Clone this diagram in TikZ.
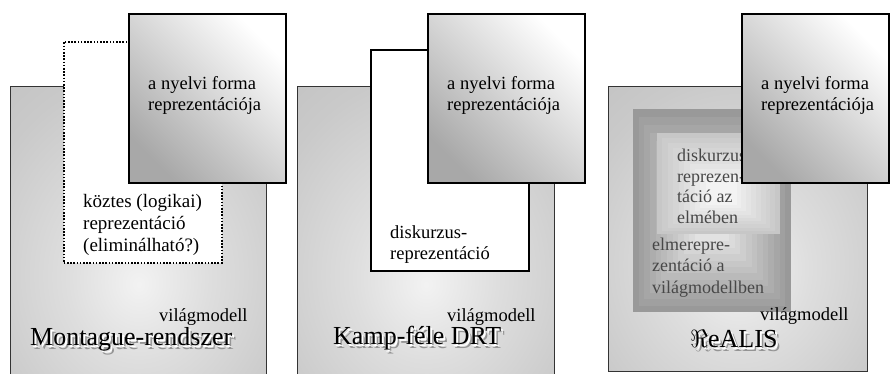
\documentclass[tikz,border=0pt]{standalone}
\usepackage{fontspec}
\setmainfont{Liberation Serif}
\usepackage{tikz}
\usetikzlibrary{positioning, shadings}

\definecolor{worldin}{gray}{0.95}
\definecolor{worldmid}{gray}{0.87}
\definecolor{worldlow}{gray}{0.79}
\definecolor{worldout}{gray}{0.74}
\pgfdeclareradialshading{worldglow}{\pgfpoint{0bp}{-8bp}}{%
  color(0bp)=(worldin); color(14bp)=(worldmid); color(32bp)=(worldlow);
  color(50bp)=(worldout); color(95bp)=(worldout)}

\newcommand{\worldtitle}[3]{%
  \node[titletext, text=black!42, xshift=3.5pt, yshift=-4.5pt] (#1-shadow) at (#2) {#3};
  \node[titletext, text=white, xshift=2pt, yshift=-2.5pt] (#1-glow) at (#2) {#3};
  \node[titletext] (#1) at (#2) {#3};}

\begin{document}
\begin{tikzpicture}[x=1pt, y=-1pt,
  world/.style={rectangle, anchor=north west, inner sep=0pt, draw=black!80,
    line width=1.4pt, shade, shading=worldglow},
  between/.style={rectangle, anchor=north west, inner sep=0pt, fill=white,
    minimum width=158pt, minimum height=221pt},
  formbox/.style={rectangle, anchor=north west, inner sep=0pt, draw=black,
    line width=2pt, minimum height=169pt, top color=white,
    bottom color=black!34, shading angle=-45},
  formtext/.style={anchor=base west, inner sep=0pt, align=left,
    font=\fontsize{18.5}{21}\selectfont},
  midtext/.style={anchor=base west, inner sep=0pt, align=left,
    font=\fontsize{19}{22}\selectfont},
  mindtext/.style={anchor=base west, inner sep=0pt, align=left, text=black!72,
    font=\fontsize{18}{20.4}\selectfont},
  worldlabel/.style={anchor=base west, inner sep=0pt,
    font=\fontsize{18.5}{21}\selectfont},
  titletext/.style={anchor=base west, inner sep=0pt,
    font=\fontsize{26}{30}\selectfont},
]
  \useasboundingbox (0,0) rectangle (890,374);

  % Montague
  \node[world, minimum width=256pt, minimum height=300pt] (mont-world) at (10,86) {};
  \node[between, draw=black, line width=1.6pt, dash pattern=on 1.6pt off 1.6pt] (mont-mid) at (63,41) {};
  \node[formbox, minimum width=157pt] (mont-form) at (128,13) {};
  \node[formtext] (mont-form-txt) at (148,111) {a nyelvi forma\\reprezentációja};
  \node[midtext] (mont-mid-txt) at (83,251) {köztes (logikai)\\reprezentáció\\(eliminálható?)};
  \node[worldlabel] (mont-label) at (159,321) {világmodell};
  \worldtitle{mont-title}{30,345}{Montague-rendszer}

  % Kamp
  \node[world, minimum width=257pt, minimum height=300pt] (kamp-world) at (297,86) {};
  \node[between, draw=black, line width=1.6pt] (kamp-drs) at (370,49) {};
  \node[formbox, minimum width=157pt] (kamp-form) at (427,13) {};
  \node[formtext] (kamp-form-txt) at (447,111) {a nyelvi forma\\reprezentációja};
  \node[formtext] (kamp-drs-txt) at (390,259) {diskurzus-\\reprezentáció};
  \node[worldlabel] (kamp-label) at (447,321) {világmodell};
  \worldtitle{kamp-title}{333,344}{Kamp-féle DRT}

  % ReALIS
  \node[world, minimum width=259pt, minimum height=285pt] (realis-world) at (608,86) {};
  \foreach \i in {0,...,11} {
    \pgfmathsetmacro\t{\i/14}
    \pgfmathsetmacro\c{40-2.6*\i}
    \fill[black!\c] ({633+79*\t},{109+113*\t}) rectangle ({791-79*\t},{312-90*\t});
  }
  \foreach \i in {0,...,9} {
    \pgfmathsetmacro\t{\i/12}
    \pgfmathsetmacro\c{22-1.9*\i}
    \fill[black!\c] ({657+65*\t},{133+62*\t}) rectangle ({780-58*\t},{234-39*\t});
  }
  \node[mindtext] (realis-drs-txt) at (677,223) {diskurzus-\\reprezen-\\táció az\\elmében};
  \node[mindtext, font=\fontsize{18}{21.5}\selectfont] (realis-mind-txt) at (652,293) {elmerepre-\\zentáció a\\világmodellben};
  \node[formbox, minimum width=147pt] (realis-form) at (741,13) {};
  \node[formtext] (realis-form-txt) at (761,111) {a nyelvi forma\\reprezentációja};
  \node[worldlabel] (realis-label) at (760,320) {világmodell};
  \worldtitle{realis-title}{690,347}{$\Re$eALIS}
\end{tikzpicture}
\end{document}
